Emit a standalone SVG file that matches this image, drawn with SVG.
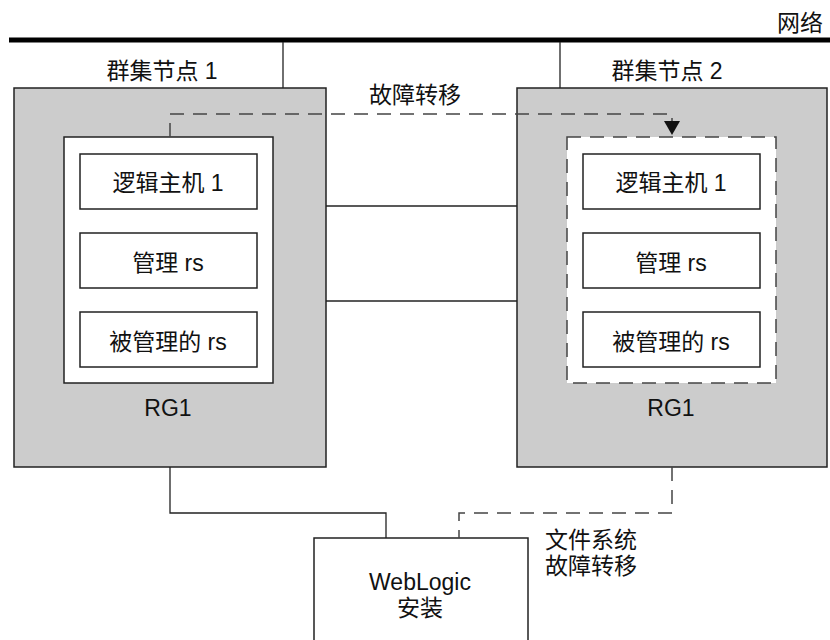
<svg xmlns="http://www.w3.org/2000/svg" width="830" height="640" viewBox="0 0 830 640">
  <style>
    text { font-family: "Liberation Sans", "Noto Sans CJK SC", sans-serif; font-size: 23px; fill: #111; text-anchor: middle; dominant-baseline: central; }
    .node { fill: #cccccc; stroke: #222; stroke-width: 1.5; }
    .panel { fill: #ffffff; stroke: #222; stroke-width: 1.5; }
    .panel-dash { fill: #ffffff; stroke: #444; stroke-width: 1.5; stroke-dasharray: 14 9; }
    .res { fill: #ffffff; stroke: #222; stroke-width: 1.5; }
    .wire { fill: none; stroke: #222; stroke-width: 1.3; }
    .dash { fill: none; stroke: #444; stroke-width: 1.5; stroke-dasharray: 14 9; }
  </style>
  <defs>
    <marker id="arrow" markerUnits="userSpaceOnUse" viewBox="0 0 14 16" refX="0" refY="8" markerWidth="14" markerHeight="16" orient="auto">
      <path d="M0,0 L14,8 L0,16 z" fill="#111"/>
    </marker>
  </defs>

  <!-- network bus -->
  <g id="network">
    <line x1="9" y1="40" x2="830" y2="40" stroke="#000" stroke-width="5"/>
    <text x="800" y="23">网络</text>
  </g>

  <!-- cluster node 1 -->
  <g id="node1">
    <text x="162" y="71">群集节点 1</text>
    <rect class="node" x="14" y="88" width="312" height="379"/>
    <rect class="panel" x="64" y="137" width="209" height="246"/>
    <rect class="res" x="80" y="154" width="177" height="55"/>
    <text x="168" y="183">逻辑主机 1</text>
    <rect class="res" x="80" y="233" width="177" height="55"/>
    <text x="168" y="263">管理 rs</text>
    <rect class="res" x="80" y="312" width="177" height="55"/>
    <text x="168" y="342">被管理的 rs</text>
    <text x="168" y="408">RG1</text>
  </g>

  <!-- cluster node 2 -->
  <g id="node2">
    <text x="667" y="71">群集节点 2</text>
    <rect class="node" x="517" y="88" width="310" height="379"/>
    <rect class="panel-dash" x="567" y="137" width="209" height="246"/>
    <rect class="res" x="583" y="154" width="177" height="55"/>
    <text x="671" y="183">逻辑主机 1</text>
    <rect class="res" x="583" y="233" width="177" height="55"/>
    <text x="671" y="263">管理 rs</text>
    <rect class="res" x="583" y="312" width="177" height="55"/>
    <text x="671" y="342">被管理的 rs</text>
    <text x="671" y="408">RG1</text>
  </g>

  <!-- WebLogic install -->
  <g id="weblogic">
    <rect class="panel" x="314" y="538" width="214" height="110"/>
    <text x="420" y="582">WebLogic</text>
    <text x="420" y="608">安装</text>
  </g>

  <!-- connectors, drawn over the node boxes -->
  <g id="connectors">
    <line class="wire" x1="283" y1="42" x2="283" y2="88"/>
    <line class="wire" x1="560" y1="42" x2="560" y2="88"/>
    <line class="wire" x1="326" y1="206" x2="517" y2="206"/>
    <line class="wire" x1="326" y1="301" x2="517" y2="301"/>
    <path class="wire" d="M170,467 V513 H386 V538"/>
    <path class="dash" d="M170,137 V114 H672 V121" marker-end="url(#arrow)"/>
    <path class="dash" d="M672,467 V513 H459 V538"/>
    <text x="415" y="95">故障转移</text>
    <text x="591" y="540">文件系统</text>
    <text x="591" y="566">故障转移</text>
  </g>
</svg>
